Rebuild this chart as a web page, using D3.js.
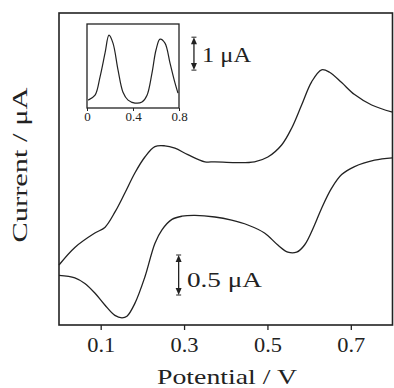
<!DOCTYPE html>
<html>
<head>
<meta charset="utf-8">
<script src="https://cdn.jsdelivr.net/npm/d3@7"></script>
<style>
  body { margin: 0; background: #fff; }
  text { font-family: "Liberation Serif", "DejaVu Serif", serif; fill: #222; }
</style>
</head>
<body>
<script>
// forward scan (0 -> 0.8 V)
const potentialFwd = [0.0, 0.038, 0.086, 0.11, 0.134, 0.158, 0.182, 0.206, 0.23, 0.254, 0.278, 0.309, 0.35, 0.374,
  0.422, 0.469, 0.501, 0.534, 0.558, 0.582, 0.606, 0.63, 0.649, 0.678, 0.709, 0.75, 0.8];
const currentFwd = [-0.85, -0.63, -0.45, -0.38, -0.19, 0.05, 0.3, 0.5, 0.63, 0.64, 0.61, 0.53, 0.44, 0.44,
  0.43, 0.44, 0.5, 0.65, 0.86, 1.15, 1.44, 1.59, 1.56, 1.43, 1.28, 1.15, 1.06];
// reverse scan (0.8 -> 0 V)
const potentialRev = [0.8, 0.757, 0.709, 0.678, 0.654, 0.63, 0.613, 0.589, 0.57, 0.549, 0.525, 0.493, 0.453, 0.414,
  0.374, 0.326, 0.295, 0.271, 0.247, 0.23, 0.206, 0.182, 0.163, 0.151, 0.134, 0.11, 0.086, 0.062, 0.038, 0.0];
const currentRev = [0.49, 0.46, 0.38, 0.28, 0.11, -0.14, -0.35, -0.6, -0.69, -0.69, -0.6, -0.45, -0.35, -0.29,
  -0.25, -0.23, -0.24, -0.28, -0.41, -0.58, -1.0, -1.33, -1.49, -1.51, -1.48, -1.35, -1.2, -1.08, -1.01, -0.98];
// inset (differential pulse)
const insetPotential = [0.01, 0.07, 0.113, 0.157, 0.191, 0.226, 0.27, 0.313, 0.357, 0.417, 0.478, 0.522, 0.565,
  0.6, 0.635, 0.678, 0.722, 0.765, 0.791];
const insetCurrent = [0.24, 0.39, 0.94, 1.67, 2.21, 1.97, 1.15, 0.48, 0.24, 0.15, 0.18, 0.39, 1.06,
  1.76, 2.09, 1.97, 1.36, 0.76, 0.45];

const xTicks = [0.1, 0.3, 0.5, 0.7];
const insetTicks = [0, 0.4, 0.8];

const W = 394, H = 388;
const margin = {top: 13, right: 1.5, bottom: 63, left: 59};
const graphWidth = W - margin.left - margin.right;
const graphHeight = H - margin.top - margin.bottom;

const svg = d3.select('body').append('svg')
    .attr('width', W)
    .attr('height', H);

const graph = svg.append('g')
    .attr('transform', `translate(${margin.left},${margin.top})`);

const x = d3.scaleLinear().domain([0, 0.8]).range([0, graphWidth]);
const y = d3.scaleLinear().domain([-1.6, 2.3]).range([graphHeight, 0]);

// frame
graph.append('rect')
    .attr('width', graphWidth).attr('height', graphHeight)
    .attr('fill', 'none').attr('stroke', '#222').attr('stroke-width', 1.6);

// x axis, ticks outward
const xAxis = d3.axisBottom(x).tickValues(xTicks).tickSize(5).tickFormat(d3.format('.1f'));
const xAxisGroup = graph.append('g')
    .attr('transform', `translate(0, ${graphHeight})`)
    .call(xAxis);
xAxisGroup.select('.domain').remove();
xAxisGroup.selectAll('line').attr('stroke', '#222').attr('stroke-width', 1.3);
xAxisGroup.selectAll('text')
    .attr('font-size', 21).attr('y', 12).attr('fill', '#222')
    .attr('textLength', 28).attr('lengthAdjust', 'spacingAndGlyphs');

const line = d3.line()
    .x(d => x(d[0]))
    .y(d => y(d[1]))
    .curve(d3.curveCatmullRom.alpha(0.5));

const fwd = potentialFwd.map((p, i) => [p, currentFwd[i]]);
const rev = potentialRev.map((p, i) => [p, currentRev[i]]);

[fwd, rev].forEach(branch => {
  graph.append('path')
      .datum(branch)
      .attr('d', line)
      .attr('fill', 'none')
      .attr('stroke', '#222')
      .attr('stroke-width', 1.3);
});

// double headed scale bar
const scaleBar = (g, px, y0, y1) => {
  g.append('line').attr('x1', px).attr('x2', px).attr('y1', y0 + 3).attr('y2', y1 - 3)
      .attr('stroke', '#222').attr('stroke-width', 1.3);
  g.append('path').attr('d', `M${px - 3},${y0 + 7}L${px},${y0}L${px + 3},${y0 + 7}Z`).attr('fill', '#222');
  g.append('path').attr('d', `M${px - 3},${y1 - 7}L${px},${y1}L${px + 3},${y1 - 7}Z`).attr('fill', '#222');
  g.append('line').attr('x1', px - 2.5).attr('x2', px + 2.5).attr('y1', y0).attr('y2', y0).attr('stroke', '#222');
  g.append('line').attr('x1', px - 2.5).attr('x2', px + 2.5).attr('y1', y1).attr('y2', y1).attr('stroke', '#222');
};

// 0.5 uA bar
scaleBar(graph, x(0.287), y(-0.725), y(-1.225));
graph.append('text')
    .attr('x', x(0.307)).attr('y', y(-1.125))
    .attr('font-size', 21)
    .attr('textLength', 75).attr('lengthAdjust', 'spacingAndGlyphs')
    .text('0.5 μA');

// inset
const inset = {left: 87, top: 24, width: 92, height: 84};
const ig = svg.append('g').attr('transform', `translate(${inset.left},${inset.top})`);
const ix = d3.scaleLinear().domain([0, 0.8]).range([0, inset.width]);
const iy = d3.scaleLinear().domain([0, 2.55]).range([inset.height, 0]);

ig.append('rect')
    .attr('width', inset.width).attr('height', inset.height)
    .attr('fill', '#fff').attr('stroke', '#222').attr('stroke-width', 1.3);

const insetAxis = ig.append('g')
    .attr('transform', `translate(0, ${inset.height})`)
    .call(d3.axisBottom(ix).tickValues(insetTicks).tickSize(3).tickFormat(d => d === 0 ? '0' : d3.format('.1f')(d)));
insetAxis.select('.domain').remove();
insetAxis.selectAll('line').attr('stroke', '#222');
insetAxis.selectAll('text')
    .attr('font-size', 13).attr('y', 4).attr('fill', '#222');

const insetLine = d3.line()
    .x(d => ix(d[0]))
    .y(d => iy(d[1]))
    .curve(d3.curveCatmullRom.alpha(0.5));

ig.append('path')
    .datum(insetPotential.map((p, i) => [p, insetCurrent[i]]))
    .attr('d', insetLine)
    .attr('fill', 'none')
    .attr('stroke', '#222')
    .attr('stroke-width', 1.2);

// 1 uA bar (inset scale)
scaleBar(ig, ix(0.93), iy(2.15), iy(1.15));
ig.append('text')
    .attr('x', ix(1.0)).attr('y', iy(1.4))
    .attr('font-size', 20)
    .attr('textLength', 49).attr('lengthAdjust', 'spacingAndGlyphs')
    .text('1 μA');

// axis titles
svg.append('text')
    .attr('x', 227).attr('y', 384)
    .attr('text-anchor', 'middle')
    .attr('font-size', 22)
    .attr('textLength', 140).attr('lengthAdjust', 'spacingAndGlyphs')
    .text('Potential / V');

svg.append('text')
    .attr('transform', 'translate(27,165) rotate(-90)')
    .attr('text-anchor', 'middle')
    .attr('font-size', 22)
    .attr('textLength', 155).attr('lengthAdjust', 'spacingAndGlyphs')
    .text('Current / μA');
</script>
</body>
</html>
